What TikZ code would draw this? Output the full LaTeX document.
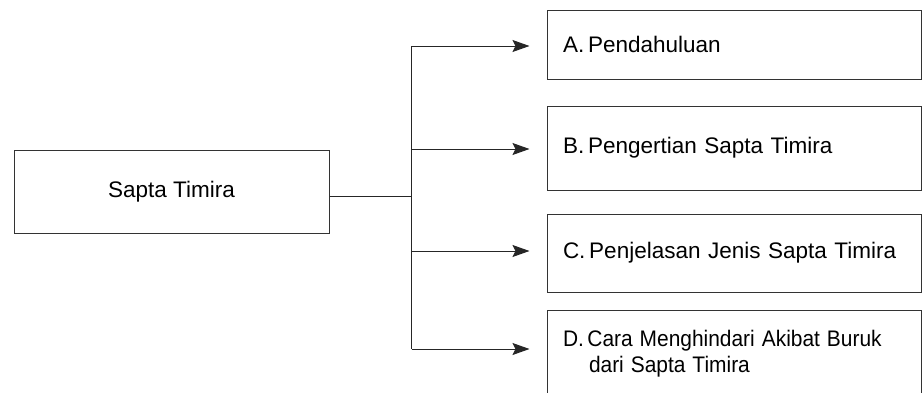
\documentclass[tikz,border=0pt]{standalone}
\usepackage{fontspec}
\setmainfont{Liberation Sans}
\usetikzlibrary{arrows.meta}
\newcommand{\narrowline}[1]{\scalebox{0.93}[1]{#1}}
\begin{document}
\begin{tikzpicture}[x=1pt,y=-1pt,
  every node/.style={font=\fontsize{22.5}{26}\selectfont, text=black},
  box/.style={draw=black!80, line width=1pt, rectangle, inner sep=0pt},
  itembox/.style={box, minimum width=374pt, text width=342pt, inner xsep=16pt, align=left},
  wire/.style={draw=black!85, line width=1pt},
  arrow/.style={wire, -{Stealth[length=17pt,width=12pt,inset=3pt]}, shorten >=17pt}]
  \useasboundingbox (0,0) rectangle (922,392);

  % root topic
  \node[box, minimum width=315pt, minimum height=82.6pt] (src) at (171.5,192) {Sapta Timira};

  % sub topics
  \node[itembox, minimum height=69pt] (boxA) at (734,44.5) {A.\,Pendahuluan};
  \node[itembox, minimum height=84pt] (boxB) at (734,148) {B.\,Pengertian Sapta Timira};
  \node[itembox, minimum height=78pt] (boxC) at (734,253) {C.\,Penjelasan Jenis Sapta Timira};
  \node[itembox, minimum height=88pt] (boxD) at (734,354)
    {\narrowline{D.\,Cara Menghindari Akibat Buruk}\\\hspace*{26pt}\narrowline{dari Sapta Timira}};

  % branch points on the distribution bar
  \coordinate (jA) at (411.7,46);
  \coordinate (jB) at (411.7,149);
  \coordinate (jC) at (411.7,251);
  \coordinate (jD) at (411.7,349);

  % trunk and bar
  \draw[wire] ([yshift=-4pt]src.east) -- ([yshift=-4pt]src.east -| jA);
  \draw[wire] (jA) -- (jD);

  % branches
  \draw[arrow] (jA) -- (jA -| boxA.west);
  \draw[arrow] (jB) -- (jB -| boxB.west);
  \draw[arrow] (jC) -- (jC -| boxC.west);
  \draw[arrow] (jD) -- (jD -| boxD.west);
\end{tikzpicture}
\end{document}
